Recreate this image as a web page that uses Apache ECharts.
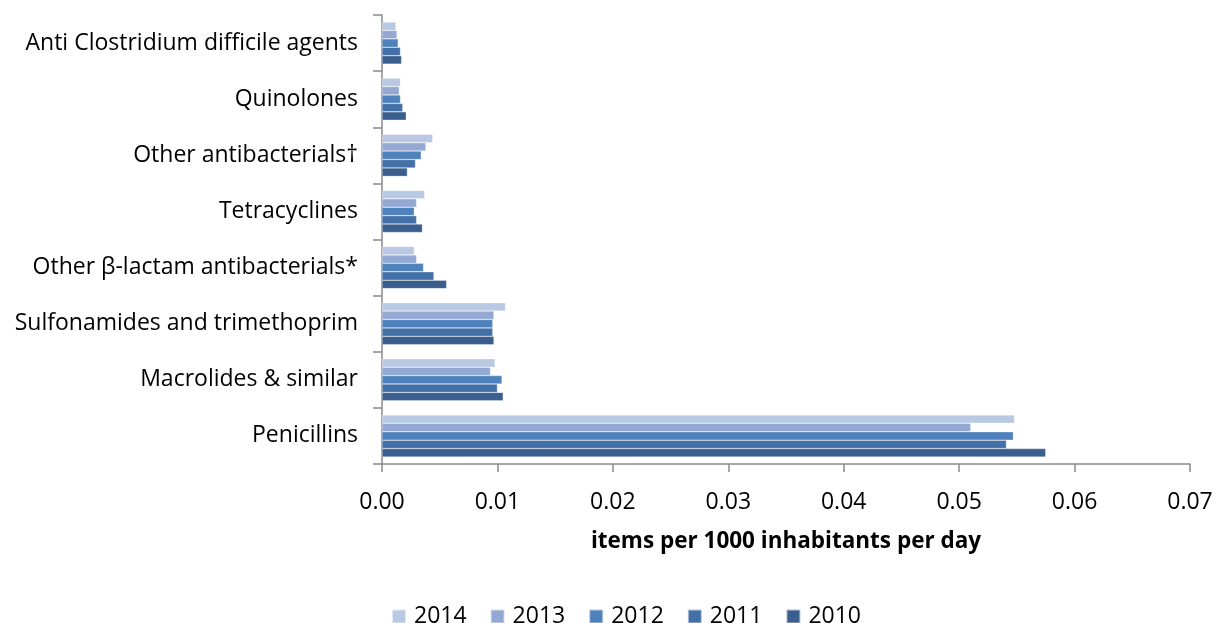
<!DOCTYPE html>
<html>
<head>
<meta charset="utf-8">
<script src="https://cdn.jsdelivr.net/npm/echarts@6/dist/echarts.min.js"></script>
<style>
html,body{margin:0;padding:0;background:#fff;}
#chart{width:1216px;height:623px;}
</style>
</head>
<body>
<div id="chart"></div>
<script>
const categories = ["Penicillins", "Macrolides & similar", "Sulfonamides and trimethoprim", "Other β-lactam antibacterials*", "Tetracyclines", "Other antibacterials†", "Quinolones", "Anti Clostridium difficile agents"];
const years = ["2014", "2013", "2012", "2011", "2010"];
const v2014 = [0.0548, 0.0098, 0.0107, 0.0028, 0.0037, 0.0044, 0.0016, 0.0012];
const v2013 = [0.0510, 0.0094, 0.0097, 0.0030, 0.0030, 0.0038, 0.0015, 0.0013];
const v2012 = [0.0547, 0.0104, 0.0096, 0.0036, 0.0028, 0.0034, 0.0016, 0.0014];
const v2011 = [0.0541, 0.0100, 0.0096, 0.0045, 0.0030, 0.0029, 0.0018, 0.0016];
const v2010 = [0.0575, 0.0105, 0.0097, 0.0056, 0.0035, 0.0022, 0.0021, 0.0017];
const xTicks = [0, 0.01, 0.02, 0.03, 0.04, 0.05, 0.06, 0.07];

const colors = {"2014": "#B9C9E3", "2013": "#93A9D3", "2012": "#4F81BD", "2011": "#4470A8", "2010": "#3A5E8E"};
const valuesByYear = {"2014": v2014, "2013": v2013, "2012": v2012, "2011": v2011, "2010": v2010};

const font = "'Open Sans', Lato, sans-serif";
const chart = echarts.init(document.getElementById('chart'), null, {renderer: 'canvas'});
chart.setOption({
  animation: false,
  textStyle: {fontFamily: font},
  grid: {left: 382, right: 26, top: 15, bottom: 159, containLabel: false},
  legend: {
    data: years,
    top: 600,
    left: 386,
    itemWidth: 14,
    itemHeight: 14,
    itemGap: 23,
    icon: 'rect',
    textStyle: {fontSize: 23, color: '#000', fontFamily: font, padding: [0, 0, 0, 3]}
  },
  xAxis: {
    type: 'value',
    min: xTicks[0],
    max: xTicks[xTicks.length - 1],
    interval: 0.01,
    name: 'items per 1000 inhabitants per day',
    nameLocation: 'middle',
    nameGap: 66,
    nameTextStyle: {fontSize: 22.5, fontWeight: 'bold', color: '#000', fontFamily: font},
    axisLine: {show: true, lineStyle: {color: '#8a8a8a', width: 1.5}},
    axisTick: {show: true, length: 8, lineStyle: {color: '#8a8a8a', width: 1.5}},
    splitLine: {show: false},
    axisLabel: {fontSize: 23, color: '#000', margin: 27, formatter: v => v.toFixed(2)}
  },
  yAxis: {
    type: 'category',
    data: categories,
    axisLine: {show: true, lineStyle: {color: '#8a8a8a', width: 1.5}},
    axisTick: {show: true, length: 9, alignWithLabel: false, lineStyle: {color: '#8a8a8a', width: 1.5}},
    axisLabel: {fontSize: 23, color: '#000', margin: 24}
  },
  series: years.map(y => ({
    name: y,
    type: 'bar',
    data: valuesByYear[y],
    barGap: '0%',
    barCategoryGap: '25%',
    itemStyle: {color: colors[y], borderColor: 'rgba(255,255,255,0.6)', borderWidth: 0.5}
  }))
});
</script>
</body>
</html>
